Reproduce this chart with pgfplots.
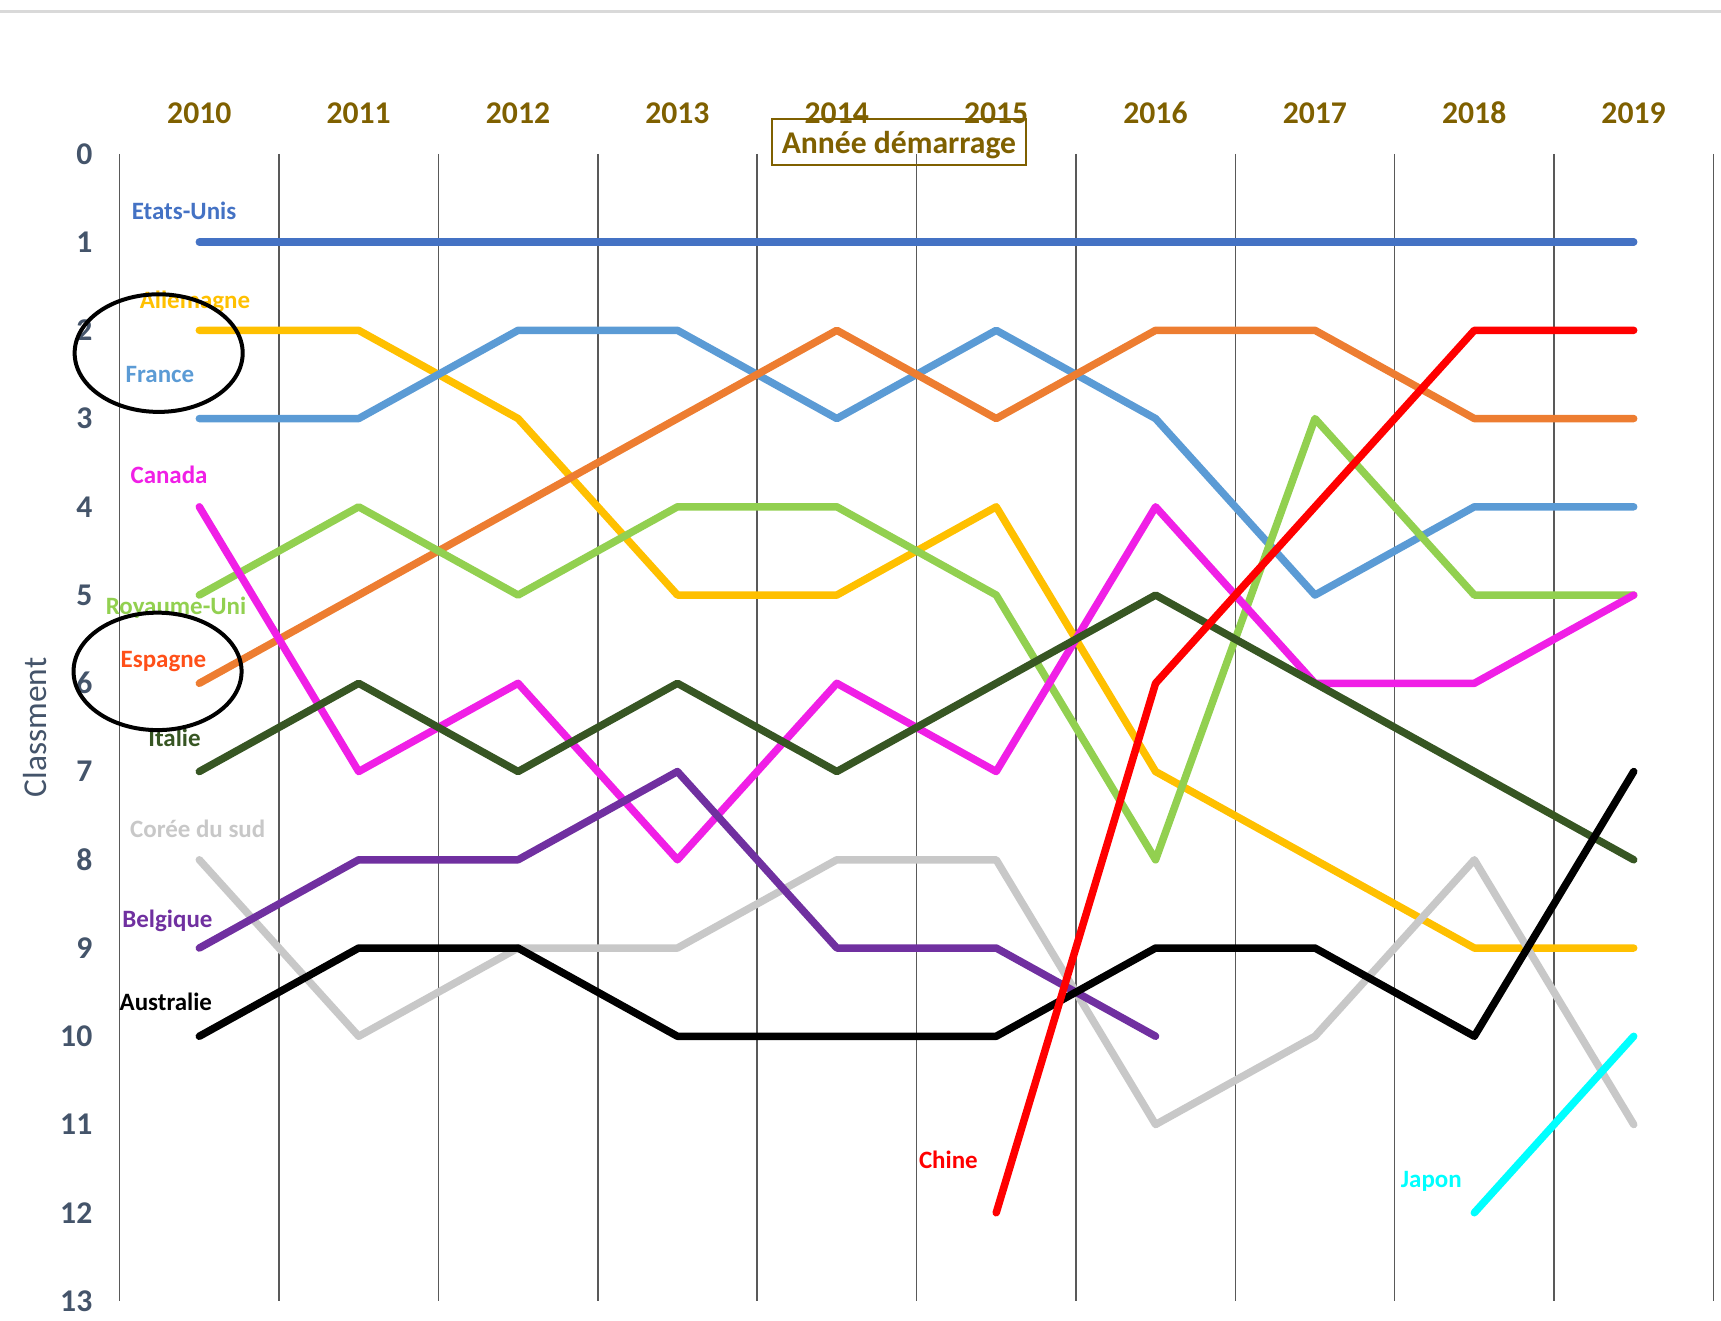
\documentclass[border=0pt]{standalone}
\usepackage{fontspec}
\setmainfont{Carlito}
\usepackage{pgfplots}
\pgfplotsset{compat=1.18}
\definecolor{cUS}{HTML}{4472C4}
\definecolor{cDE}{HTML}{FFC000}
\definecolor{cFR}{HTML}{5B9BD5}
\definecolor{cES}{HTML}{ED7D31}
\definecolor{cESlab}{HTML}{FF5019}
\definecolor{cUK}{HTML}{92D050}
\definecolor{cCA}{HTML}{F01FE6}
\definecolor{cIT}{HTML}{375623}
\definecolor{cKR}{HTML}{C8C8C8}
\definecolor{cBE}{HTML}{7030A0}
\definecolor{cCN}{HTML}{FF0000}
\definecolor{cJP}{HTML}{00FFFF}
\definecolor{cYear}{HTML}{7F6000}
\definecolor{cYax}{HTML}{44546A}
\definecolor{cGrid}{HTML}{595959}
\tikzset{clab/.style={font=\fontsize{7.1pt}{8pt}\selectfont\bfseries, anchor=center, inner sep=0pt}}
\begin{document}
\begin{tikzpicture}
\useasboundingbox (-11.96mm,-1.94mm) rectangle (160.1mm,130.07mm);
\draw[draw=black!15, line width=0.3mm] (-11.96mm,128.87mm) -- (160.1mm,128.87mm);
\begin{axis}[
  at={(0,0)}, anchor=south west,
  scale only axis, width=159.34mm, height=114.69mm,
  xmin=2009.5, xmax=2019.5, ymin=0, ymax=13, y dir=reverse,
  clip=false,
  axis line style={draw=none},
  major tick length=0pt, minor tick length=0pt,
  xtick={2010,...,2019}, ytick={0,...,13},
  minor xtick={2009.5,2010.5,2011.5,2012.5,2013.5,2014.5,2015.5,2016.5,2017.5,2018.5,2019.5},
  xminorgrids, minor x grid style={draw=cGrid, line width=0.15mm},
  xticklabel pos=right,
  /pgf/number format/assume math mode=true,
  xticklabel style={/pgf/number format/1000 sep={}, font=\fontsize{9pt}{10pt}\selectfont\bfseries, text=cYear, anchor=base, inner sep=0pt, yshift=3.07mm},
  yticklabel style={font=\fontsize{9pt}{10pt}\selectfont\bfseries, text=cYax, anchor=east, inner sep=0pt, xshift=-2.66mm},
  ylabel={Classment},
  ylabel style={at={(axis description cs:-0.0531,0.5)}, anchor=center, font=\fontsize{9.5pt}{10pt}\selectfont, text=cYax},
  every axis plot/.append style={line width=0.75mm, line cap=round, line join=round},
]
\addplot[cUS] coordinates {(2010,1)(2011,1)(2012,1)(2013,1)(2014,1)(2015,1)(2016,1)(2017,1)(2018,1)(2019,1)};
\addplot[cDE] coordinates {(2010,2)(2011,2)(2012,3)(2013,5)(2014,5)(2015,4)(2016,7)(2017,8)(2018,9)(2019,9)};
\addplot[cFR] coordinates {(2010,3)(2011,3)(2012,2)(2013,2)(2014,3)(2015,2)(2016,3)(2017,5)(2018,4)(2019,4)};
\addplot[cES] coordinates {(2010,6)(2011,5)(2012,4)(2013,3)(2014,2)(2015,3)(2016,2)(2017,2)(2018,3)(2019,3)};
\addplot[cUK] coordinates {(2010,5)(2011,4)(2012,5)(2013,4)(2014,4)(2015,5)(2016,8)(2017,3)(2018,5)(2019,5)};
\addplot[cCA] coordinates {(2010,4)(2011,7)(2012,6)(2013,8)(2014,6)(2015,7)(2016,4)(2017,6)(2018,6)(2019,5)};
\addplot[cIT] coordinates {(2010,7)(2011,6)(2012,7)(2013,6)(2014,7)(2015,6)(2016,5)(2017,6)(2018,7)(2019,8)};
\addplot[cKR] coordinates {(2010,8)(2011,10)(2012,9)(2013,9)(2014,8)(2015,8)(2016,11)(2017,10)(2018,8)(2019,11)};
\addplot[cBE] coordinates {(2010,9)(2011,8)(2012,8)(2013,7)(2014,9)(2015,9)(2016,10)};
\addplot[black] coordinates {(2010,10)(2011,9)(2012,9)(2013,10)(2014,10)(2015,10)(2016,9)(2017,9)(2018,10)(2019,7)};
\addplot[cCN] coordinates {(2015,12)(2016,6)(2017,4)(2018,2)(2019,2)};
\addplot[cJP] coordinates {(2018,12)(2019,10)};

\node[clab, text=cUS] at (axis cs:2009.904,0.65) {Etats-Unis};
\node[clab, text=cDE] at (axis cs:2009.973,1.68) {Allemagne};
\node[clab, text=cFR] at (axis cs:2009.753,2.50) {France};
\node[clab, text=cCA] at (axis cs:2009.81,3.64) {Canada};
\node[clab, text=cUK] at (axis cs:2009.854,5.14) {Royaume-Uni};
\node[clab, text=cESlab] at (axis cs:2009.775,5.75) {Espagne};
\node[clab, text=cIT] at (axis cs:2009.844,6.62) {Italie};
\node[clab, text=cKR] at (axis cs:2009.99,7.65) {Corée du sud};
\node[clab, text=cBE] at (axis cs:2009.80,8.69) {Belgique};
\node[clab, text=black] at (axis cs:2009.79,9.61) {Australie};
\node[clab, text=cCN] at (axis cs:2014.70,11.40) {Chine};
\node[clab, text=cJP] at (axis cs:2017.73,11.64) {Japon};

\node[draw=cYear, line width=0.2mm, minimum width=25.4mm, minimum height=4.6mm, inner sep=0pt] at (axis cs:2014.39,-0.138) {};
\node[text=cYear, font=\fontsize{9pt}{10pt}\selectfont\bfseries, inner sep=0pt] at (axis cs:2014.39,-0.10) {Année démarrage};

\draw[black, line width=0.4mm] (axis cs:2009.745,2.258) ellipse [x radius=8.4mm, y radius=5.88mm];
\draw[black, line width=0.4mm] (axis cs:2009.738,5.865) ellipse [x radius=8.4mm, y radius=5.87mm];
\end{axis}
\end{tikzpicture}
\end{document}
